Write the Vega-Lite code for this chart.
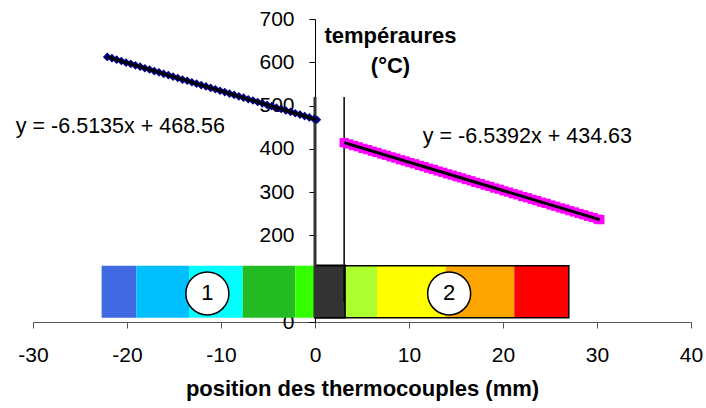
{
  "$schema": "https://vega.github.io/schema/vega-lite/v6.json",
  "autosize": "none",
  "width": 658,
  "height": 303,
  "padding": {"left": 33, "top": 19, "right": 15, "bottom": 86},
  "background": "white",
  "config": {"view": {"stroke": null}, "font": "Liberation Sans"},
  "datasets": {
    "bar": [
      {"seg": "s1", "x": -22.7, "x2": -19.0, "y": 10, "y2": 130},
      {"seg": "s2", "x": -19.0, "x2": -13.4, "y": 10, "y2": 130},
      {"seg": "s3", "x": -13.4, "x2": -7.7, "y": 10, "y2": 130},
      {"seg": "s4", "x": -7.7, "x2": -2.1, "y": 10, "y2": 130},
      {"seg": "s5", "x": -2.1, "x2": 0, "y": 10, "y2": 130},
      {"seg": "s6", "x": 0, "x2": 3.2, "y": 10, "y2": 130},
      {"seg": "s7", "x": 3.2, "x2": 6.6, "y": 10, "y2": 130},
      {"seg": "s8", "x": 6.6, "x2": 13.9, "y": 10, "y2": 130},
      {"seg": "s9", "x": 13.9, "x2": 21.2, "y": 10, "y2": 130},
      {"seg": "s10", "x": 21.2, "x2": 27.0, "y": 10, "y2": 130}
    ],
    "outline": [
      {"x": 0, "x2": 27.0, "y": 10, "y2": 130},
      {"x": 0, "x2": 3.2, "y": 10, "y2": 131}
    ],
    "circles": [
      {"x": -11.45, "y": 66, "label": "1"},
      {"x": 14.27, "y": 66, "label": "2"}
    ],
    "thick": [{"x": 0, "y": 10, "y2": 520}],
    "thin": [{"x": 3.1, "y": 46, "y2": 520}],
    "s1": [
      {"x": -22.1, "y": 612.5}, {"x": -21.6, "y": 609.6}, {"x": -21.1, "y": 606.1}, {"x": -20.6, "y": 602.9},
      {"x": -20.1, "y": 599.2}, {"x": -19.6, "y": 596.4}, {"x": -19.1, "y": 592.9}, {"x": -18.6, "y": 589.9},
      {"x": -18.1, "y": 586.3}, {"x": -17.6, "y": 583.4}, {"x": -17.1, "y": 579.7}, {"x": -16.6, "y": 576.8},
      {"x": -16.1, "y": 573.3}, {"x": -15.6, "y": 570.4}, {"x": -15.1, "y": 566.7}, {"x": -14.6, "y": 563.8},
      {"x": -14.1, "y": 560.1}, {"x": -13.6, "y": 557.3}, {"x": -13.1, "y": 553.8}, {"x": -12.6, "y": 550.7},
      {"x": -12.1, "y": 547.2}, {"x": -11.6, "y": 544.3}, {"x": -11.1, "y": 540.7}, {"x": -10.6, "y": 537.7},
      {"x": -10.1, "y": 534.2}, {"x": -9.6, "y": 531.1}, {"x": -9.1, "y": 527.7}, {"x": -8.6, "y": 524.7},
      {"x": -8.1, "y": 521.2}, {"x": -7.6, "y": 518.2}, {"x": -7.1, "y": 514.6}, {"x": -6.6, "y": 511.7},
      {"x": -6.1, "y": 508.2}, {"x": -5.6, "y": 505.2}, {"x": -5.1, "y": 501.6}, {"x": -4.6, "y": 498.7},
      {"x": -4.1, "y": 495.1}, {"x": -3.6, "y": 492.2}, {"x": -3.1, "y": 488.6}, {"x": -2.6, "y": 485.6},
      {"x": -2.1, "y": 482.2}, {"x": -1.6, "y": 479.1}, {"x": -1.1, "y": 475.7}, {"x": -0.6, "y": 472.6},
      {"x": -0.1, "y": 469.2}, {"x": 0.2, "y": 467.3}
    ],
    "s2": [
      {"x": 3.1, "y": 414.4}, {"x": 3.6, "y": 411.3}, {"x": 4.1, "y": 407.6}, {"x": 4.6, "y": 404.8},
      {"x": 5.1, "y": 401.1}, {"x": 5.6, "y": 398.2}, {"x": 6.1, "y": 394.6}, {"x": 6.6, "y": 391.7},
      {"x": 7.1, "y": 388.0}, {"x": 7.6, "y": 385.1}, {"x": 8.1, "y": 381.5}, {"x": 8.6, "y": 378.6},
      {"x": 9.1, "y": 374.9}, {"x": 9.6, "y": 372.0}, {"x": 10.1, "y": 368.4}, {"x": 10.6, "y": 365.5},
      {"x": 11.1, "y": 361.8}, {"x": 11.6, "y": 358.9}, {"x": 12.1, "y": 355.3}, {"x": 12.6, "y": 352.4},
      {"x": 13.1, "y": 348.8}, {"x": 13.6, "y": 345.9}, {"x": 14.1, "y": 342.2}, {"x": 14.6, "y": 339.3},
      {"x": 15.1, "y": 335.7}, {"x": 15.6, "y": 332.8}, {"x": 16.1, "y": 329.1}, {"x": 16.6, "y": 326.3},
      {"x": 17.1, "y": 322.6}, {"x": 17.6, "y": 319.7}, {"x": 18.1, "y": 316.1}, {"x": 18.6, "y": 313.2},
      {"x": 19.1, "y": 309.5}, {"x": 19.6, "y": 306.7}, {"x": 20.1, "y": 303.0}, {"x": 20.6, "y": 300.1},
      {"x": 21.1, "y": 296.4}, {"x": 21.6, "y": 293.6}, {"x": 22.1, "y": 289.9}, {"x": 22.6, "y": 287.0},
      {"x": 23.1, "y": 283.4}, {"x": 23.6, "y": 280.5}, {"x": 24.1, "y": 276.8}, {"x": 24.6, "y": 274.0},
      {"x": 25.1, "y": 270.3}, {"x": 25.6, "y": 267.4}, {"x": 26.1, "y": 263.7}, {"x": 26.6, "y": 260.9},
      {"x": 27.1, "y": 257.2}, {"x": 27.6, "y": 254.3}, {"x": 28.1, "y": 250.7}, {"x": 28.6, "y": 247.8},
      {"x": 29.1, "y": 244.1}, {"x": 29.6, "y": 241.3}, {"x": 30.1, "y": 237.6}, {"x": 30.3, "y": 236.5}
    ],
    "fit": [
      {"series": "a", "x": -22.1, "y": 612.5}, {"series": "a", "x": 0.2, "y": 467.3},
      {"series": "b", "x": 3.1, "y": 414.4}, {"series": "b", "x": 30.3, "y": 236.5}
    ],
    "eq": [
      {"x": -20.7, "y": 450, "label": "y = -6.5135x + 468.56"},
      {"x": 22.6, "y": 427, "label": "y = -6.5392x + 434.63"}
    ]
  },
  "encoding": {
    "x": {
      "field": "x", "type": "quantitative",
      "scale": {"domain": [-30, 40], "nice": false, "zero": false},
      "axis": {
        "title": "position des thermocouples (mm)",
        "values": [-30, -20, -10, 0, 10, 20, 30, 40],
        "labelExpr": "'' + datum.value",
        "grid": false, "tickSize": 6, "labelFlush": false, "labelOverlap": false,
        "labelFontSize": 21, "labelColor": "#000", "labelPadding": 16,
        "domainColor": "#555", "tickColor": "#555",
        "titleFontSize": 22, "titleFontWeight": "bold", "titleColor": "#000",
        "titleX": 329, "titleY": 66, "titleAlign": "center", "titleBaseline": "middle"
      }
    },
    "y": {
      "field": "y", "type": "quantitative",
      "scale": {"domain": [0, 700], "nice": false, "zero": false},
      "axis": {
        "orient": "left", "offset": -282,
        "title": ["tempéraures", "(°C)"],
        "values": [0, 100, 200, 300, 400, 500, 600, 700],
        "grid": false, "tickSize": 6, "labelFlush": false, "labelOverlap": false,
        "labelFontSize": 21, "labelColor": "#000", "labelPadding": 15,
        "domainColor": "#000", "tickColor": "#000",
        "titleFontSize": 22, "titleFontWeight": "bold", "titleColor": "#000",
        "titleAngle": 0, "titleX": 75, "titleY": 16, "titleAlign": "center",
        "titleBaseline": "middle", "titleLineHeight": 30
      }
    }
  },
  "layer": [
    {
      "data": {"name": "bar"},
      "mark": {"type": "rect"},
      "encoding": {
        "x2": {"field": "x2"},
        "y2": {"field": "y2"},
        "color": {
          "field": "seg", "type": "nominal", "legend": null,
          "scale": {
            "domain": ["s1", "s2", "s3", "s4", "s5", "s6", "s7", "s8", "s9", "s10"],
            "range": ["#4169E1", "#00BFFF", "#00FFFF", "#22BB22", "#33FF00", "#333333", "#ADFF2F", "#FFFF00", "#FFA500", "#FF0000"]
          }
        }
      }
    },
    {
      "data": {"name": "outline"},
      "mark": {"type": "rect", "fillOpacity": 0, "stroke": "#000", "strokeWidth": 1.5},
      "encoding": {"x2": {"field": "x2"}, "y2": {"field": "y2"}}
    },
    {
      "data": {"name": "circles"},
      "mark": {"type": "point", "shape": "circle", "filled": true, "fill": "#fff", "stroke": "#000", "strokeWidth": 1.5, "size": 1850, "opacity": 1}
    },
    {
      "data": {"name": "circles"},
      "mark": {"type": "text", "fontSize": 22, "color": "#000", "baseline": "middle", "align": "center"},
      "encoding": {"text": {"field": "label"}}
    },
    {
      "data": {"name": "thick"},
      "mark": {"type": "rule", "color": "#333", "strokeWidth": 3},
      "encoding": {"y2": {"field": "y2"}}
    },
    {
      "data": {"name": "thin"},
      "mark": {"type": "rule", "color": "#000", "strokeWidth": 1.5},
      "encoding": {"y2": {"field": "y2"}}
    },
    {
      "data": {"name": "s1"},
      "mark": {"type": "point", "shape": "diamond", "filled": true, "color": "#000080", "size": 75, "opacity": 1}
    },
    {
      "data": {"name": "s2"},
      "mark": {"type": "point", "shape": "square", "filled": true, "color": "#FF00FF", "size": 85, "opacity": 1}
    },
    {
      "data": {"name": "fit"},
      "mark": {"type": "line", "color": "#000", "strokeWidth": 3},
      "encoding": {"detail": {"field": "series"}}
    },
    {
      "data": {"name": "eq"},
      "mark": {"type": "text", "fontSize": 21.5, "color": "#000", "align": "center", "baseline": "middle"},
      "encoding": {"text": {"field": "label"}}
    }
  ]
}
